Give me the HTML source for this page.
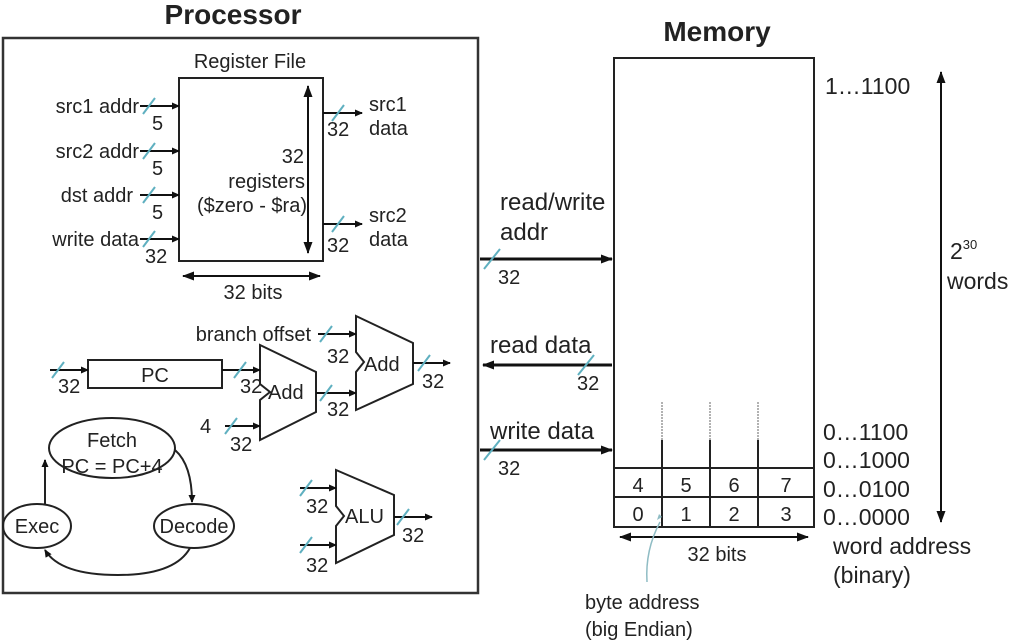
<!DOCTYPE html>
<html><head><style>body{margin:0;background:#fff}svg{display:block}text{font-family:"Liberation Sans",sans-serif;fill:#222}</style></head>
<body>
<svg width="1017" height="642" viewBox="0 0 1017 642">
<defs><marker id="a" markerWidth="8" markerHeight="8" refX="7" refY="4" orient="auto" markerUnits="userSpaceOnUse"><path d="M0,0.5L8,4L0,7.5z" fill="#111"/></marker>
<marker id="b" markerWidth="12" markerHeight="10" refX="11" refY="5" orient="auto" markerUnits="userSpaceOnUse"><path d="M0,0.5L12,5L0,9.5z" fill="#111"/></marker>
<marker id="s" markerWidth="12" markerHeight="10" refX="1" refY="5" orient="auto" markerUnits="userSpaceOnUse"><path d="M12,0.5L0,5L12,9.5z" fill="#111"/></marker></defs>
<g font-size="20">
<text x="233" y="24" font-size="28" font-weight="bold" text-anchor="middle">Processor</text>
<text x="717" y="41" font-size="28" font-weight="bold" text-anchor="middle">Memory</text>
<rect x="3" y="38" width="475" height="555" fill="none" stroke="#333" stroke-width="2.5"/>
<text x="250" y="68" text-anchor="middle">Register File</text>
<rect x="179" y="78" width="144" height="183" fill="none" stroke="#222" stroke-width="2"/>
<line x1="308" y1="86" x2="308" y2="253" stroke="#111" stroke-width="2" marker-start="url(#s)" marker-end="url(#b)"/>
<text x="304" y="163" text-anchor="end">32</text>
<text x="305" y="188" text-anchor="end">registers</text>
<text x="307" y="212" text-anchor="end">($zero - $ra)</text>
<g stroke="#111" stroke-width="2" fill="none">
<line x1="140" y1="106" x2="179" y2="106" marker-end="url(#a)"/>
<line x1="140" y1="151" x2="179" y2="151" marker-end="url(#a)"/>
<line x1="140" y1="195" x2="179" y2="195" marker-end="url(#a)"/>
<line x1="140" y1="239" x2="179" y2="239" marker-end="url(#a)"/>
<line x1="323" y1="113" x2="362" y2="113" marker-end="url(#a)"/>
<line x1="323" y1="224" x2="362" y2="224" marker-end="url(#a)"/>
<line x1="183" y1="276" x2="320" y2="276" marker-start="url(#s)" marker-end="url(#b)"/>
</g>
<text x="139" y="113" text-anchor="end">src1 addr</text>
<text x="139" y="158" text-anchor="end">src2 addr</text>
<text x="133" y="202" text-anchor="end">dst addr</text>
<text x="139" y="246" text-anchor="end">write data</text>
<text x="152" y="130">5</text><text x="152" y="175">5</text><text x="152" y="219">5</text><text x="145" y="263">32</text>
<text x="369" y="111">src1</text><text x="369" y="135">data</text>
<text x="369" y="222">src2</text><text x="369" y="246">data</text>
<text x="327" y="136">32</text><text x="327" y="252">32</text>
<text x="253" y="299" text-anchor="middle">32 bits</text>
<rect x="88" y="360" width="134" height="28" fill="none" stroke="#222" stroke-width="2"/>
<text x="155" y="382" text-anchor="middle">PC</text>
<g stroke="#222" stroke-width="2" fill="none">
<path d="M260,345L316,372L316,412L260,440L260,400L270,392L260,384Z"/>
<path d="M356,316L413,343L413,384L356,410L356,372L364,362L356,352Z"/>
<path d="M336,470L394,495L394,535L336,563L336,526L344,516L336,506Z"/>
</g>
<g stroke="#111" stroke-width="2">
<line x1="50" y1="370" x2="88" y2="370" marker-end="url(#a)"/>
<line x1="222" y1="370" x2="260" y2="370" marker-end="url(#a)"/>
<line x1="225" y1="426" x2="260" y2="426" marker-end="url(#a)"/>
<line x1="316" y1="393" x2="356" y2="393" marker-end="url(#a)"/>
<line x1="318" y1="334" x2="356" y2="334" marker-end="url(#a)"/>
<line x1="413" y1="363" x2="450" y2="363" marker-end="url(#a)"/>
<line x1="300" y1="488" x2="336" y2="488" marker-end="url(#a)"/>
<line x1="300" y1="545" x2="336" y2="545" marker-end="url(#a)"/>
<line x1="394" y1="517" x2="432" y2="517" marker-end="url(#a)"/>
</g>
<text x="311" y="341" text-anchor="end">branch offset</text>
<text x="58" y="393">32</text><text x="240" y="393">32</text><text x="268" y="399">Add</text>
<text x="200" y="433">4</text><text x="230" y="451">32</text><text x="327" y="416">32</text>
<text x="327" y="363">32</text><text x="364" y="371">Add</text><text x="422" y="388">32</text>
<text x="306" y="513">32</text><text x="306" y="572">32</text><text x="345" y="523">ALU</text><text x="402" y="542">32</text>
<g stroke="#222" stroke-width="2" fill="none">
<ellipse cx="112" cy="448" rx="63" ry="30"/>
<ellipse cx="37" cy="526" rx="34" ry="22"/>
<ellipse cx="194" cy="526" rx="40" ry="22"/>
<path d="M45,504L45,460" marker-end="url(#a)"/>
<path d="M175,450Q192,465 192,502" marker-end="url(#a)"/>
<path d="M190,548Q175,575 118,575Q60,575 45,550" marker-end="url(#a)"/>
</g>
<text x="112" y="447" text-anchor="middle">Fetch</text>
<text x="112" y="473" text-anchor="middle">PC = PC+4</text>
<text x="37" y="533" text-anchor="middle">Exec</text>
<text x="194" y="533" text-anchor="middle">Decode</text>
<g stroke="#111" stroke-width="3">
<line x1="480" y1="259" x2="612" y2="259" marker-end="url(#b)"/>
<line x1="612" y1="365" x2="483" y2="365" marker-end="url(#b)"/>
<line x1="480" y1="450" x2="612" y2="450" marker-end="url(#b)"/>
</g>
<g font-size="24">
<text x="500" y="210">read/write</text><text x="500" y="240">addr</text>
<text x="490" y="353">read data</text>
<text x="490" y="439">write data</text>
</g>
<text x="498" y="284">32</text><text x="577" y="390">32</text><text x="498" y="475">32</text>
<rect x="614" y="58" width="200" height="469" fill="none" stroke="#222" stroke-width="2"/>
<g stroke="#222" stroke-width="2">
<line x1="614" y1="468" x2="814" y2="468"/><line x1="614" y1="497" x2="814" y2="497"/>
<line x1="662" y1="440" x2="662" y2="527"/><line x1="710" y1="440" x2="710" y2="527"/><line x1="758" y1="440" x2="758" y2="527"/>
</g>
<g stroke="#999" stroke-width="1.5" stroke-dasharray="2,1">
<line x1="662" y1="402" x2="662" y2="440"/><line x1="710" y1="402" x2="710" y2="440"/><line x1="758" y1="402" x2="758" y2="440"/>
</g>
<text x="638" y="492" text-anchor="middle">4</text><text x="686" y="492" text-anchor="middle">5</text><text x="734" y="492" text-anchor="middle">6</text><text x="786" y="492" text-anchor="middle">7</text>
<text x="638" y="521" text-anchor="middle">0</text><text x="686" y="521" text-anchor="middle">1</text><text x="734" y="521" text-anchor="middle">2</text><text x="786" y="521" text-anchor="middle">3</text>
<line x1="620" y1="537" x2="808" y2="537" stroke="#111" stroke-width="2" marker-start="url(#s)" marker-end="url(#b)"/>
<text x="717" y="561" text-anchor="middle">32 bits</text>
<path d="M660,522Q645,550 647,582" stroke="#8fbcc4" stroke-width="1.5" fill="none"/>
<path d="M662,517l-5,3l2,-6z" fill="#8fbcc4"/>
<text x="585" y="609">byte address</text><text x="585" y="636">(big Endian)</text>
<g font-size="23">
<text x="825" y="94">1…1100</text>
<text x="823" y="440">0…1100</text><text x="823" y="468">0…1000</text><text x="823" y="497">0…0100</text><text x="823" y="525">0…0000</text>
<text x="833" y="554">word address</text><text x="833" y="583">(binary)</text>
<text x="950" y="259">2<tspan font-size="13" dy="-10">30</tspan></text>
<text x="947" y="289">words</text>
</g>
<line x1="941" y1="72" x2="941" y2="522" stroke="#111" stroke-width="2" marker-start="url(#s)" marker-end="url(#b)"/>
</g>
<g stroke="#5fb0c0" stroke-width="2">
<line x1="143" y1="114" x2="155" y2="98"/><line x1="143" y1="159" x2="155" y2="143"/><line x1="143" y1="203" x2="155" y2="187"/><line x1="143" y1="247" x2="155" y2="231"/>
<line x1="332" y1="121" x2="344" y2="105"/><line x1="332" y1="232" x2="344" y2="216"/>
<line x1="52" y1="378" x2="64" y2="362"/><line x1="234" y1="378" x2="246" y2="362"/><line x1="225" y1="434" x2="237" y2="418"/>
<line x1="320" y1="401" x2="332" y2="385"/><line x1="320" y1="342" x2="332" y2="326"/><line x1="418" y1="371" x2="430" y2="355"/>
<line x1="300" y1="496" x2="312" y2="480"/><line x1="300" y1="553" x2="312" y2="537"/><line x1="397" y1="525" x2="409" y2="509"/>
<line x1="484" y1="269" x2="500" y2="249"/><line x1="578" y1="375" x2="594" y2="355"/><line x1="484" y1="460" x2="500" y2="440"/>
</g>
</svg>
</body></html>
